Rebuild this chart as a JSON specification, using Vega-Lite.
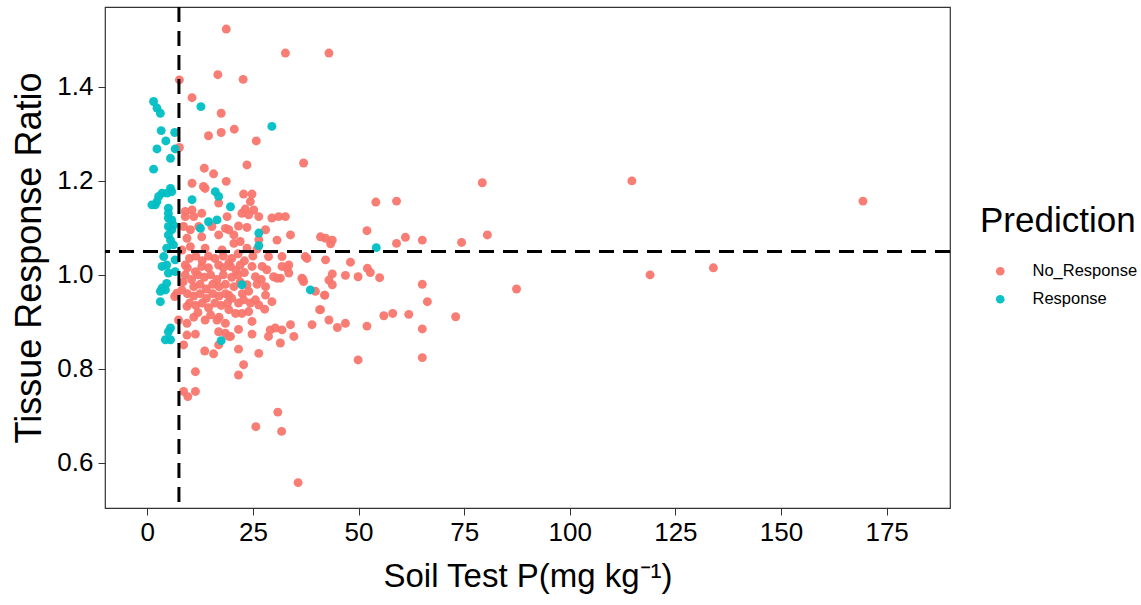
{
"$schema":"https://vega.github.io/schema/vega-lite/v6.json",
"width":845,"height":501,
"autosize":"none",
"padding":{"left":105,"top":7,"right":191,"bottom":97},
"background":"white",
"config":{"view":{"stroke":"#333333","strokeWidth":1.2},"font":"Liberation Sans"},
"datasets":{
"resp":[[1.5,1.369],[2.3,1.355],[3.1,1.344],[12.7,1.358],[29.5,1.316],[3.3,1.307],[6.5,1.303],[4.4,1.285],[2.3,1.268],[6.6,1.268],[5.5,1.248],[1.5,1.225],[5.5,1.184],[5.8,1.177],[4.7,1.174],[3.5,1.174],[2.7,1.167],[2.3,1.156],[1.9,1.149],[1.1,1.149],[16.1,1.177],[16.9,1.167],[10.6,1.16],[19.7,1.145],[5,1.142],[5,1.131],[5,1.121],[5.8,1.117],[6.2,1.106],[5,1.103],[5.8,1.096],[16.5,1.117],[12.6,1.099],[14.5,1.113],[5,1.085],[5.5,1.074],[6.2,1.064],[4.6,1.057],[3.9,1.039],[3.5,1.018],[4.6,1.021],[6.6,1.032],[26.4,1.089],[26.4,1.062],[54.2,1.058],[5,1.004],[6.6,1.007],[4.6,0.982],[3.5,0.972],[3.1,0.965],[4.3,0.968],[3.1,0.943],[22.4,0.979],[38.6,0.968],[5,0.879],[4.3,0.862],[5.5,0.862],[5.5,0.887],[17.5,0.86]],
"noresp":[[18.7,1.523],[32.7,1.472],[43,1.472],[7.6,1.415],[16.7,1.426],[22.7,1.416],[10.6,1.377],[17.5,1.344],[14.5,1.296],[17.5,1.303],[20.6,1.31],[25.8,1.285],[7.6,1.271],[23.6,1.234],[37,1.238],[13.5,1.227],[15.7,1.215],[18.7,1.199],[10.6,1.195],[13.7,1.184],[13.3,1.188],[16.9,1.153],[10.6,1.138],[9,1.135],[9,1.124],[11,1.124],[12.9,1.131],[8.6,1.103],[10.2,1.096],[12.2,1.103],[15.3,1.103],[18.5,1.099],[9.4,1.078],[12.9,1.081],[16.9,1.085],[19.3,1.096],[20.5,1.067],[10.2,1.06],[13.7,1.057],[17.7,1.053],[8.2,1.053],[9,1.021],[12.9,1.018],[16.9,1.021],[19.7,1.018],[11.4,1.007],[22.8,1.172],[24.8,1.172],[24.4,1.156],[23.2,1.14],[25.2,1.138],[22.4,1.131],[24,1.128],[26.4,1.124],[18.9,1.124],[29.5,1.121],[31.1,1.124],[32.7,1.124],[21.6,1.104],[23.6,1.101],[26.4,1.075],[28,1.096],[20.5,1.085],[22,1.071],[30.7,1.074],[33.9,1.085],[41,1.081],[42.2,1.078],[43.8,1.074],[43.4,1.066],[23.6,1.057],[28.7,1.039],[31.9,1.039],[37.4,1.039],[19.3,1.025],[22,1.021],[24.8,1.018],[27.2,1.018],[31.9,1.018],[33.5,1.021],[42.2,1.032],[37.8,1.035],[54.1,1.155],[59,1.157],[52,1.094],[59,1.067],[61.1,1.08],[65.1,1.074],[74.4,1.069],[80.5,1.085],[79.3,1.196],[114.7,1.2],[119,1.0],[134,1.015],[169.4,1.157],[87.4,0.97],[73,0.911],[48.1,1.027],[52.1,1.014],[52.8,1.005],[55,0.994],[49.9,0.996],[46.9,0.999],[43.8,1.002],[43,0.989],[43.8,0.979],[65.1,0.98],[66.3,0.943],[42,0.957],[41,0.926],[43,0.904],[45,0.888],[46.9,0.897],[52,0.891],[56,0.913],[58.1,0.918],[61.9,0.916],[65.1,0.885],[49.9,0.819],[65.1,0.824],[33.1,1.014],[28.3,1.011],[25.6,0.996],[30.7,0.993],[36.6,0.993],[37,0.986],[29.9,0.996],[31.5,0.993],[33.5,1.004],[36.8,0.991],[23.6,0.979],[28,0.975],[39.8,0.965],[42,0.957],[19.3,0.957],[21.6,0.94],[22.8,0.947],[24.4,0.94],[25.6,0.947],[26.4,0.936],[28,0.957],[29.5,0.943],[19.3,0.926],[20.9,0.918],[22.4,0.918],[24,0.922],[27.8,0.927],[24.8,0.901],[21.6,0.884],[24.8,0.874],[19.3,0.869],[29.1,0.883],[30.3,0.887],[31.9,0.883],[33.9,0.894],[28.7,0.869],[34.7,0.869],[31.5,0.855],[39,0.894],[40.8,0.926],[21.6,0.842],[26.4,0.833],[22.8,0.809],[21.6,0.787],[8.6,0.851],[9.4,0.872],[11.4,0.874],[13.6,0.838],[15.7,0.832],[16.9,0.851],[16.9,0.879],[18.5,0.876],[19.7,0.869],[7,0.961],[8.2,0.968],[9.4,0.933],[13.7,0.904],[7.4,0.904],[9.4,0.897],[16.5,0.904],[18.5,0.897],[11.4,0.794],[8.6,0.752],[9.6,0.741],[11.4,0.752],[30.9,0.708],[25.7,0.677],[31.8,0.667],[35.7,0.558],[6.5,0.954],[9,1.0],[10.5,0.99],[12,1.0],[13.5,0.995],[15,1.0],[16.5,0.99],[18,1.0],[20,0.995],[21.5,1.0],[23,1.005],[8.5,0.985],[11,0.975],[12.5,0.98],[14,0.97],[15.5,0.98],[17,0.975],[18.5,0.98],[20.5,0.975],[22,0.985],[9.5,0.96],[11,0.955],[12.5,0.96],[14,0.95],[15.5,0.96],[17,0.955],[18.5,0.96],[20,0.95],[10,0.94],[11.5,0.935],[13,0.94],[14.5,0.93],[16,0.94],[17.5,0.935],[19,0.94],[10,1.035],[11.5,1.04],[13,1.03],[14.5,1.04],[16,1.035],[18,1.04],[20,1.035],[21.5,1.045],[9.5,1.015],[14.5,1.015],[18,1.015],[21,1.01],[23,1.03],[25,1.04],[26,1.055],[12,0.92],[15,0.915],[17,0.91],[11,0.91],[22.5,0.96],[24,0.965],[26,0.98],[27,0.99]]
},
"layer":[
{"data":{"name":"noresp"},
 "transform":[{"calculate":"datum[0]","as":"SoilTestP"},{"calculate":"datum[1]","as":"TRR"},{"calculate":"'No_Response'","as":"Prediction"}],
 "mark":{"type":"circle","size":80,"opacity":0.95},
 "encoding":{
  "x":{"field":"SoilTestP","type":"quantitative","scale":{"domain":[-10,190],"nice":false,"zero":false},
   "axis":{"values":[0,25,50,75,100,125,150,175],"title":"Soil Test P(mg kg⁻¹)","grid":false,"domain":false,"tickColor":"#333333","tickSize":7,"labelFontSize":26,"labelColor":"black","labelPadding":4,"titleFontSize":33,"titleFontWeight":"normal","titleColor":"black","titlePadding":15}},
  "y":{"field":"TRR","type":"quantitative","scale":{"domain":[0.504,1.57],"nice":false,"zero":false},
   "axis":{"values":[0.6,0.8,1.0,1.2,1.4],"format":".1f","title":"Tissue Response Ratio","grid":false,"domain":false,"tickColor":"#333333","tickSize":7,"labelFontSize":26,"labelColor":"black","labelPadding":5,"titleFontSize":36,"titleFontWeight":"normal","titleColor":"black","titlePadding":8}},
  "color":{"field":"Prediction","type":"nominal","scale":{"domain":["No_Response","Response"],"range":["#F8766D","#00BFC4"]},
   "legend":{"orient":"none","legendX":875,"legendY":197,"title":"Prediction","titleFontSize":35,"titleFontWeight":"normal","titleColor":"black","titlePadding":24,"labelFontSize":16.5,"labelColor":"black","symbolType":"circle","symbolSize":75,"symbolStrokeWidth":0,"symbolOpacity":1,"symbolOffset":12,"rowPadding":11,"labelOffset":24,"offset":0}}
 }},
{"data":{"name":"resp"},
 "transform":[{"calculate":"datum[0]","as":"SoilTestP"},{"calculate":"datum[1]","as":"TRR"},{"calculate":"'Response'","as":"Prediction"}],
 "mark":{"type":"circle","size":80,"opacity":0.95},
 "encoding":{
  "x":{"field":"SoilTestP","type":"quantitative"},
  "y":{"field":"TRR","type":"quantitative"},
  "color":{"field":"Prediction","type":"nominal"}
 }},
{"data":{"values":[{"h":1.05}]},"mark":{"type":"rule","color":"black","strokeWidth":3,"strokeDash":[15,9]},"encoding":{"y":{"field":"h","type":"quantitative"}}},
{"data":{"values":[{"v":7.5}]},"mark":{"type":"rule","color":"black","strokeWidth":3,"strokeDash":[15,9]},"encoding":{"x":{"field":"v","type":"quantitative"}}}
]
}
